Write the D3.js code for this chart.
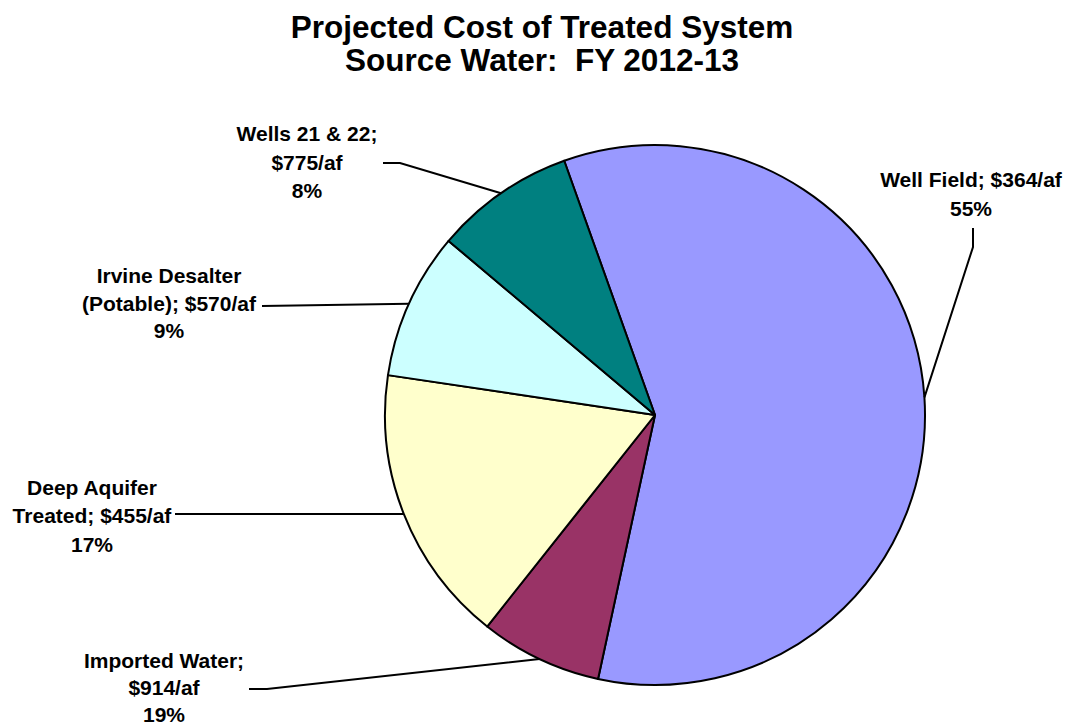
<!DOCTYPE html>
<html>
<head>
<meta charset="utf-8">
<script src="https://cdn.jsdelivr.net/npm/d3@7/dist/d3.min.js"></script>
<style>
  html, body { margin: 0; padding: 0; background: #fff; }
  svg { display: block; }
  text { font-family: "Liberation Sans", Arial, sans-serif; font-weight: bold; fill: #000; }
</style>
</head>
<body>
<svg id="chart" width="1071" height="727"></svg>
<script>
// Source water categories, clockwise from the top
const sources = ["Well Field", "Imported Water", "Deep Aquifer Treated", "Irvine Desalter (Potable)", "Wells 21 & 22"];
// Share of the pie for each source (percent)
const share = [58.9, 7.3, 16.7, 8.8, 8.4];
// Projected cost, $ per acre-foot
const costPerAf = [364, 914, 455, 570, 775];
// Percentages printed in the labels
const labelPct = [55, 19, 17, 9, 8];
// Label text lines
const labelLines = [
  ["Well Field; $" + costPerAf[0] + "/af", labelPct[0] + "%"],
  ["Imported Water;", "$" + costPerAf[1] + "/af", labelPct[1] + "%"],
  ["Deep Aquifer", "Treated; $" + costPerAf[2] + "/af", labelPct[2] + "%"],
  ["Irvine Desalter", "(Potable); $" + costPerAf[3] + "/af", labelPct[3] + "%"],
  ["Wells 21 & 22;", "$" + costPerAf[4] + "/af", labelPct[4] + "%"]
];
const colors = ["#9999FF", "#993366", "#FFFFCC", "#CCFFFF", "#008080"];

const svg = d3.select("#chart");
const cx = 655, cy = 415, r = 270;

// Title
const title = svg.append("text")
  .attr("x", 542).attr("text-anchor", "middle")
  .style("font-size", "31.5px");
title.append("tspan").attr("x", 542).attr("y", 38).text("Projected Cost of Treated System");
title.append("tspan").attr("x", 542).attr("y", 71).attr("xml:space", "preserve").text("Source Water:  FY 2012-13");

const startA = -19.65 * Math.PI / 180;
const pie = d3.pie().sort(null).value(d => d).startAngle(startA).endAngle(startA + 2 * Math.PI);
const arcs = pie(share);
const arc = d3.arc().innerRadius(0).outerRadius(r);
const edge = d3.arc().innerRadius(r).outerRadius(r);

const g = svg.append("g").attr("transform", `translate(${cx},${cy})`);
g.selectAll("path.slice")
  .data(arcs)
  .join("path")
  .attr("class", "slice")
  .attr("d", arc)
  .attr("fill", (d, i) => colors[i])
  .attr("stroke", "#000")
  .attr("stroke-width", 2)
  .attr("stroke-linejoin", "round");

// Label layout: text centre x, first baseline, line step, leader start points
const labelLayout = [
  { x: 971, y: 187, step: 29, leader: [[973, 228], [973, 247]] },
  { x: 164, y: 668, step: 27, leader: [[249, 689], [267, 689]] },
  { x: 92, y: 495, step: 28.3, leader: [[175, 514]] },
  { x: 169, y: 283, step: 27.7, leader: [[262, 306]] },
  { x: 307, y: 141, step: 28.5, leader: [[383, 163], [400, 163]] }
];

arcs.forEach((d, i) => {
  const L = labelLayout[i];
  const c = edge.centroid(d);
  const pts = L.leader.concat([[cx + c[0], cy + c[1]]]);
  svg.append("path")
    .attr("d", d3.line()(pts))
    .attr("fill", "none")
    .attr("stroke", "#000")
    .attr("stroke-width", 2);
  const t = svg.append("text").attr("text-anchor", "middle").style("font-size", "21px");
  labelLines[i].forEach((s, k) => {
    t.append("tspan").attr("x", L.x).attr("y", L.y + k * L.step).text(s);
  });
});
</script>
</body>
</html>
